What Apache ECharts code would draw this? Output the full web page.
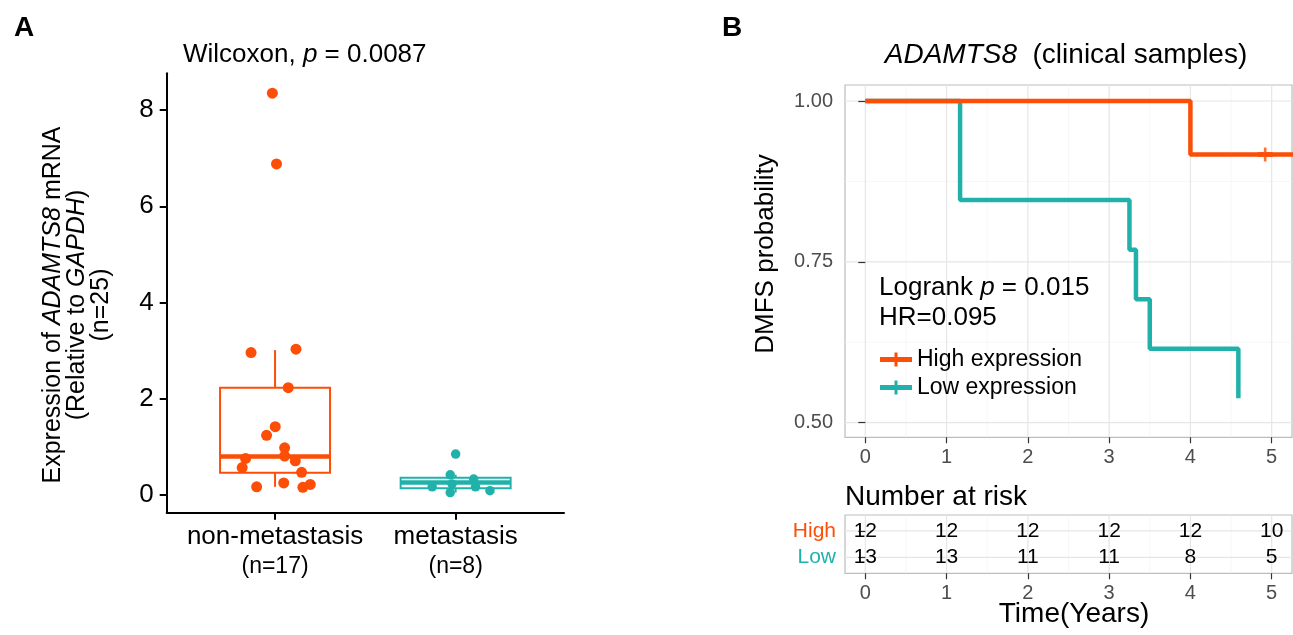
<!DOCTYPE html>
<html><head><meta charset="utf-8">
<script src="https://cdn.jsdelivr.net/npm/echarts@6.0.0/dist/echarts.min.js"></script>
<style>html,body{margin:0;padding:0;background:#fff}#c{width:1293px;height:635px}</style>
</head><body><div id="c"></div>
<script>
// ---------- Panel A data ----------
const groupNames = ['non-metastasis', 'metastasis'];
const groupN = ['(n=17)', '(n=8)'];
const nonMetJitterX = [0.867, 1.116, 1.073, 1.001, 0.953, 1.053, 1.053, 1.112, 0.837, 0.818, 1.147, 0.898, 1.048, 1.154, 1.195, 0.985, 1.008];
const nonMetValues  = [2.96, 3.03, 2.23, 1.42, 1.24, 0.98, 0.81, 0.71, 0.76, 0.57, 0.47, 0.17, 0.25, 0.16, 0.22, 8.35, 6.88];
const metJitterX = [2.00, 1.97, 2.10, 1.87, 1.98, 2.11, 1.97, 2.19];
const metValues  = [0.85, 0.42, 0.33, 0.17, 0.23, 0.17, 0.05, 0.09];
// [position, lower whisker, Q1, median, Q3, upper whisker]
const nonMetBox = [1, 0.17, 0.46, 0.80, 2.23, 3.01];
const metBox    = [2, 0.05, 0.14, 0.26, 0.36, 0.42];
const exprTicks = [0, 2, 4, 6, 8];

// ---------- Panel B data ----------
const highTime = [0, 4.0, 5.3];
const highSurv = [1, 0.917, 0.917];
const lowTime  = [0, 1.166, 3.25, 3.33, 3.50, 4.59];
const lowSurv  = [1, 0.846, 0.769, 0.692, 0.615, 0.538];
const highCensorTime = [4.92];
const highCensorSurv = [0.917];
const timeTicks = [0, 1, 2, 3, 4, 5];
const timeMinor = [0.5, 1.5, 2.5, 3.5, 4.5];
const survTicks = [0.5, 0.75, 1.0];
const survMinor = [0.625, 0.875];
const riskTimes = [0, 1, 2, 3, 4, 5];
const riskHigh = [12, 12, 12, 12, 12, 10];
const riskLow  = [13, 13, 11, 11, 8, 5];
const riskRows = ['Low', 'High'];

// ---------- style ----------
const ORANGE = '#FC4E07';
const TEAL = '#20B2AA';
const FONT = "'Liberation Sans', Arial, sans-serif";
const BOX_W = 0.609;
const GRID_MAJOR = '#E6E6E6';
const GRID_MINOR = '#F1F1F1';
const TICK_GREY = '#4D4D4D';

const chart = echarts.init(document.getElementById('c'), null, {renderer: 'canvas'});

function renderBox(params, api) {
  const x = api.value(0);
  const half = api.size([BOX_W, 0])[0] / 2;
  const pLo = api.coord([x, api.value(1)]);
  const pQ1 = api.coord([x, api.value(2)]);
  const pMd = api.coord([x, api.value(3)]);
  const pQ3 = api.coord([x, api.value(4)]);
  const pHi = api.coord([x, api.value(5)]);
  const color = params.dataIndex === 0 ? ORANGE : TEAL;
  return {type: 'group', children: [
    {type: 'line', shape: {x1: pHi[0], y1: pHi[1], x2: pQ3[0], y2: pQ3[1]}, style: {stroke: color, lineWidth: 2}},
    {type: 'line', shape: {x1: pQ1[0], y1: pQ1[1], x2: pLo[0], y2: pLo[1]}, style: {stroke: color, lineWidth: 2}},
    {type: 'rect', shape: {x: pMd[0] - half, y: pQ3[1], width: 2 * half, height: pQ1[1] - pQ3[1]}, style: {fill: '#fff', stroke: color, lineWidth: 2}},
    {type: 'line', shape: {x1: pMd[0] - half, y1: pMd[1], x2: pMd[0] + half, y2: pMd[1]}, style: {stroke: color, lineWidth: 4.5}}
  ]};
}
function vGrid(width, color) {
  return function (params, api) {
    const cs = params.coordSys;
    const p = api.coord([api.value(0), api.value(1)]);
    return {type: 'line', shape: {x1: p[0], y1: cs.y, x2: p[0], y2: cs.y + cs.height}, style: {stroke: color, lineWidth: width}};
  };
}
function hGrid(width, color) {
  return function (params, api) {
    const cs = params.coordSys;
    const p = api.coord([api.value(0), api.value(1)]);
    return {type: 'line', shape: {x1: cs.x, y1: p[1], x2: cs.x + cs.width, y2: p[1]}, style: {stroke: color, lineWidth: width}};
  };
}
function renderRisk(params, api) {
  const p = api.coord([api.value(0), api.value(1)]);
  return {type: 'text', x: p[0], y: p[1], z2: 10, style: {text: String(api.value(2)), align: 'center', verticalAlign: 'middle', fontSize: 21, fontFamily: FONT, fill: '#000'}};
}

const censorPath = 'path://M0,4.5H6V0h2.6v4.5H14.6v5H8.6V14H6V9.5H0z';
const legendIcon = 'path://M0,4.5H14.5V0h3v4.5H32v5H17.5V14h-3V9.5H0z';

const kmXBase = {
  type: 'value', min: -0.25, max: 5.25,
  axisLine: {show: false},
  splitLine: {show: false},
  axisTick: {show: true, customValues: timeTicks, length: 6, lineStyle: {color: '#333', width: 1.2}},
  axisLabel: {show: true, customValues: timeTicks, color: TICK_GREY, fontSize: 20, fontFamily: FONT, margin: 10, formatter: v => String(v)}
};

const option = {
  animation: false,
  backgroundColor: '#fff',
  textStyle: {fontFamily: FONT},
  grid: [
    {left: 166.7, top: 73.3, width: 397.3, height: 439.4, outerBoundsMode: 'none'},
    {left: 845, top: 85, width: 447, height: 352.3, show: true, backgroundColor: '#fff', borderColor: '#BDBDBD', borderWidth: 1.2, outerBoundsMode: 'none'},
    {left: 845, top: 515, width: 447, height: 58.3, show: true, backgroundColor: '#fff', borderColor: '#BDBDBD', borderWidth: 1.2, outerBoundsMode: 'none'}
  ],
  xAxis: [
    {gridIndex: 0, type: 'value', min: 0.4, max: 2.6,
     axisLine: {show: true, onZero: false, lineStyle: {color: '#000', width: 2}},
     splitLine: {show: false},
     axisTick: {show: true, customValues: [1, 2], length: 7, lineStyle: {color: '#000', width: 2}},
     axisLabel: {show: true, customValues: [1, 2], margin: 9, lineHeight: 30,
       formatter: v => '{a|' + groupNames[Math.round(v) - 1] + '}\n{b|' + groupN[Math.round(v) - 1] + '}',
       rich: {a: {fontSize: 26, fontFamily: FONT, color: '#000', lineHeight: 30}, b: {fontSize: 23, fontFamily: FONT, color: '#000', lineHeight: 30}}}},
    Object.assign({gridIndex: 1}, kmXBase),
    Object.assign({gridIndex: 2}, kmXBase)
  ],
  yAxis: [
    {gridIndex: 0, type: 'value', min: -0.368, max: 8.763,
     axisLine: {show: true, onZero: false, lineStyle: {color: '#000', width: 2}},
     splitLine: {show: false},
     axisTick: {show: true, customValues: exprTicks, length: 7, lineStyle: {color: '#000', width: 2}},
     axisLabel: {show: true, customValues: exprTicks, margin: 13, fontSize: 26, fontFamily: FONT, color: '#000', formatter: v => String(v)}},
    {gridIndex: 1, type: 'value', min: 0.4773, max: 1.0249,
     axisLine: {show: false}, splitLine: {show: false},
     axisTick: {show: true, customValues: survTicks, length: 7, lineStyle: {color: '#333', width: 1.2}},
     axisLabel: {show: true, customValues: survTicks, margin: 12, fontSize: 20, fontFamily: FONT, color: TICK_GREY, formatter: v => v.toFixed(2)}},
    {gridIndex: 2, type: 'value', min: 0.4, max: 2.6,
     axisLine: {show: false}, splitLine: {show: false},
     axisTick: {show: true, customValues: [1, 2], length: 7, lineStyle: {color: '#333', width: 1.2}},
     axisLabel: {show: true, customValues: [1, 2], margin: 9,
       formatter: v => (Math.round(v) === 2 ? '{h|' + riskRows[1] + '}' : '{l|' + riskRows[0] + '}'),
       rich: {h: {color: ORANGE, fontSize: 21, fontFamily: FONT}, l: {color: TEAL, fontSize: 21, fontFamily: FONT}}}}
  ],
  legend: {
    show: true, orient: 'vertical', left: 875, top: 343, itemGap: 5,
    itemWidth: 32, itemHeight: 14, selectedMode: false,
    textStyle: {fontSize: 23, fontFamily: FONT, color: '#000'},
    data: [{name: 'High expression', icon: legendIcon}, {name: 'Low expression', icon: legendIcon}]
  },
  series: [
    // Panel A
    {type: 'custom', xAxisIndex: 0, yAxisIndex: 0, renderItem: renderBox, z: 2, silent: true,
     data: [nonMetBox, metBox]},
    {type: 'scatter', xAxisIndex: 0, yAxisIndex: 0, symbolSize: 11, z: 3, silent: true,
     itemStyle: {color: ORANGE, opacity: 1},
     data: nonMetJitterX.map((x, i) => [x, nonMetValues[i]])},
    {type: 'scatter', xAxisIndex: 0, yAxisIndex: 0, symbolSize: 9.5, z: 3, silent: true,
     itemStyle: {color: TEAL, opacity: 1},
     data: metJitterX.map((x, i) => [x, metValues[i]])},
    // Panel B grid lines
    {type: 'custom', xAxisIndex: 1, yAxisIndex: 1, renderItem: vGrid(0.6, GRID_MINOR), z: 0, silent: true, data: timeMinor.map(t => [t, 0.75])},
    {type: 'custom', xAxisIndex: 1, yAxisIndex: 1, renderItem: hGrid(0.6, GRID_MINOR), z: 0, silent: true, data: survMinor.map(s => [2.5, s])},
    {type: 'custom', xAxisIndex: 1, yAxisIndex: 1, renderItem: vGrid(1.2, GRID_MAJOR), z: 0, silent: true, data: timeTicks.map(t => [t, 0.75])},
    {type: 'custom', xAxisIndex: 1, yAxisIndex: 1, renderItem: hGrid(1.2, GRID_MAJOR), z: 0, silent: true, data: survTicks.map(s => [2.5, s])},
    // KM curves
    {name: 'Low expression', type: 'line', xAxisIndex: 1, yAxisIndex: 1, step: 'end', showSymbol: false, clip: true, z: 3, silent: true,
     color: TEAL, lineStyle: {color: TEAL, width: 4.5}, itemStyle: {color: TEAL},
     data: lowTime.map((t, i) => [t, lowSurv[i]])},
    {name: 'High expression', type: 'line', xAxisIndex: 1, yAxisIndex: 1, step: 'end', showSymbol: false, clip: true, z: 4, silent: true,
     color: ORANGE, lineStyle: {color: ORANGE, width: 4.5}, itemStyle: {color: ORANGE},
     data: highTime.map((t, i) => [t, highSurv[i]])},
    {type: 'scatter', xAxisIndex: 1, yAxisIndex: 1, symbol: censorPath, symbolSize: [15, 14], z: 5, silent: true,
     itemStyle: {color: ORANGE}, data: highCensorTime.map((t, i) => [t, highCensorSurv[i]])},
    // Risk table
    {type: 'custom', xAxisIndex: 2, yAxisIndex: 2, renderItem: vGrid(0.6, GRID_MINOR), z: 0, silent: true, data: timeMinor.map(t => [t, 1.5])},
    {type: 'custom', xAxisIndex: 2, yAxisIndex: 2, renderItem: vGrid(1.2, GRID_MAJOR), z: 0, silent: true, data: timeTicks.map(t => [t, 1.5])},
    {type: 'custom', xAxisIndex: 2, yAxisIndex: 2, renderItem: hGrid(1.2, GRID_MAJOR), z: 0, silent: true, data: [[2.5, 1], [2.5, 2]]},
    {type: 'custom', xAxisIndex: 2, yAxisIndex: 2, renderItem: renderRisk, z: 6, silent: true,
     data: riskTimes.map((t, i) => [t, 2, riskHigh[i]]).concat(riskTimes.map((t, i) => [t, 1, riskLow[i]]))}
  ],
  graphic: [
    {type: 'text', x: 24, y: 28, style: {text: 'A', fontSize: 28, fontWeight: 'bold', fontFamily: FONT, fill: '#000', align: 'center', verticalAlign: 'middle'}},
    {type: 'text', x: 732, y: 28, style: {text: 'B', fontSize: 28, fontWeight: 'bold', fontFamily: FONT, fill: '#000', align: 'center', verticalAlign: 'middle'}},
    {type: 'text', x: 183, y: 55, style: {text: '{n|Wilcoxon, }{i|p}{n| = 0.0087}', align: 'left', verticalAlign: 'middle',
      rich: {n: {fontSize: 26, fontFamily: FONT, fill: '#000'}, i: {fontSize: 26, fontFamily: FONT, fontStyle: 'italic', fill: '#000'}}}},
    {type: 'text', x: 77, y: 305, rotation: Math.PI / 2, style: {
      text: '{n|Expression of }{i|ADAMTS8}{n| mRNA}\n{n|(Relative to }{i|GAPDH}{n|)}\n{n|(n=25)}',
      align: 'center', verticalAlign: 'middle',
      rich: {n: {fontSize: 25, fontFamily: FONT, fill: '#000', lineHeight: 24}, i: {fontSize: 25, fontFamily: FONT, fontStyle: 'italic', fill: '#000', lineHeight: 24}}}},
    {type: 'text', x: 1066, y: 55, style: {text: '{i|ADAMTS8}{n|  (clinical samples)}', align: 'center', verticalAlign: 'middle',
      rich: {n: {fontSize: 28, fontFamily: FONT, fill: '#000'}, i: {fontSize: 28, fontFamily: FONT, fontStyle: 'italic', fill: '#000'}}}},
    {type: 'text', x: 766, y: 254, rotation: Math.PI / 2, style: {text: 'DMFS probability', fontSize: 26, fontFamily: FONT, fill: '#000', align: 'center', verticalAlign: 'middle'}},
    {type: 'text', x: 879, y: 288, z: 10, style: {text: '{n|Logrank }{i|p}{n| = 0.015}', align: 'left', verticalAlign: 'middle',
      rich: {n: {fontSize: 26, fontFamily: FONT, fill: '#000'}, i: {fontSize: 26, fontFamily: FONT, fontStyle: 'italic', fill: '#000'}}}},
    {type: 'text', x: 879, y: 318, z: 10, style: {text: 'HR=0.095', fontSize: 26, fontFamily: FONT, fill: '#000', align: 'left', verticalAlign: 'middle'}},
    {type: 'text', x: 845, y: 497, style: {text: 'Number at risk', fontSize: 28, fontFamily: FONT, fill: '#000', align: 'left', verticalAlign: 'middle'}},
    {type: 'text', x: 1074, y: 614, style: {text: 'Time(Years)', fontSize: 28, fontFamily: FONT, fill: '#000', align: 'center', verticalAlign: 'middle'}}
  ]
};
chart.setOption(option);
</script>
</body></html>
